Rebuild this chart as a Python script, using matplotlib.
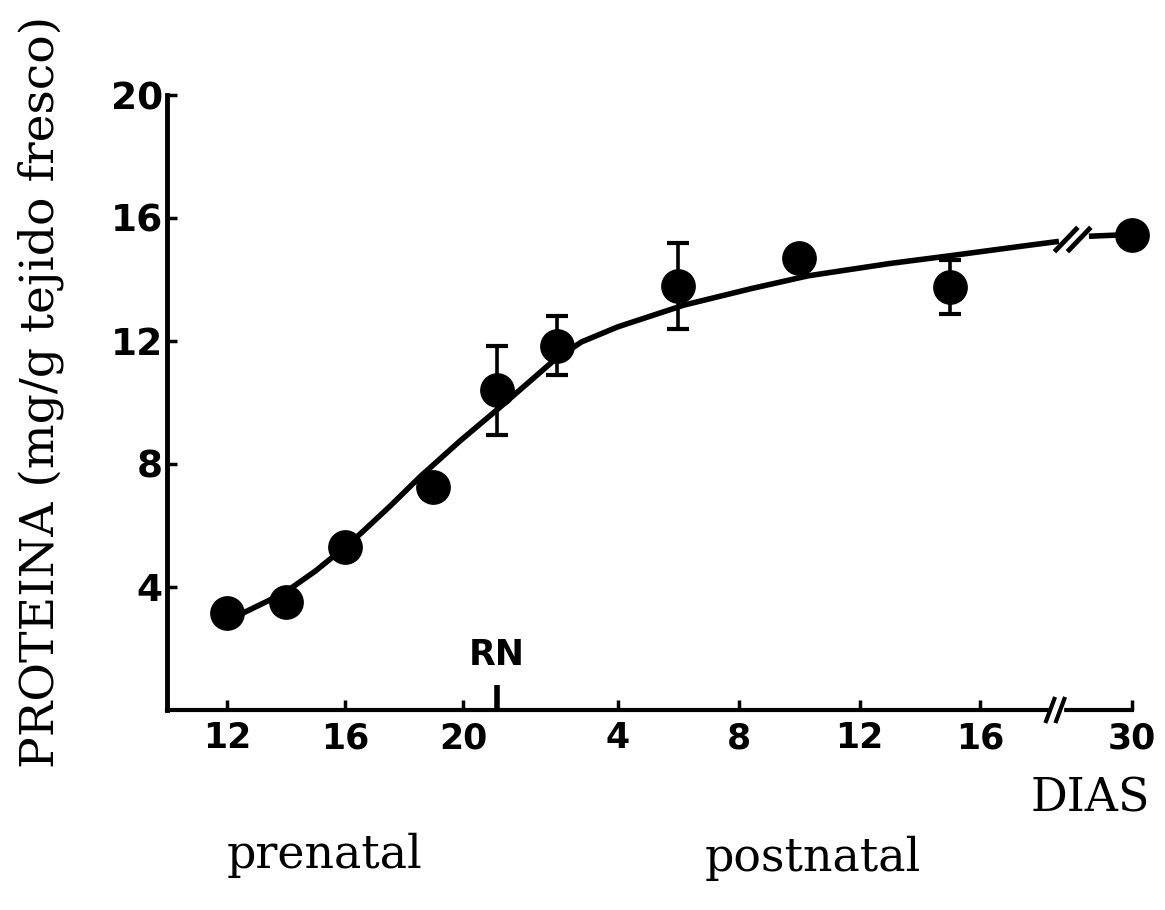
import numpy as np
import matplotlib.pyplot as plt

# measured points: prenatal (gestational day) and postnatal (day after birth)
pre_days = [12, 14, 16, 19]
pre_prot = [3.15, 3.5, 5.3, 7.25]

post_days = [0, 2, 6, 10, 15, 30]
post_prot = [10.4, 11.85, 13.78, 14.7, 13.75, 15.45]
post_err = [1.45, 0.95, 1.4, 0.0, 0.88, 0.0]

# fitted curve as drawn in the original
curve_pre_days = [12.0, 12.54, 13.46, 14.2, 15.0, 15.9, 16.41, 17.53, 18.54, 19.9]
curve_pre_prot = [2.83, 3.15, 3.58, 3.98, 4.52, 5.22, 5.63, 6.63, 7.58, 8.75]
curve_post_days = [0, 1.9, 2.8, 4.0, 6.2, 8.4, 10.3, 13.0, 14.9, 17.5, 18.6, 23.5, 27.0, 30]
curve_post_prot = [9.76, 11.38, 11.97, 12.46, 13.17, 13.7, 14.12, 14.52, 14.76, 15.1, 15.24,
                   15.41, 15.44, 15.45]

pre_ticks = [12, 16, 20]
post_ticks = [4, 8, 12, 16, 30]

# axis layout: prenatal days as base unit, birth (RN) between 21 and 22
BIRTH = 21.15
POST_SCALE = 1.024
BREAK_DAY = 18.7
AFTER_SCALE = 0.21


def xpos_post(p):
    p = np.asarray(p, dtype=float)
    before = BIRTH + POST_SCALE * np.minimum(p, BREAK_DAY)
    after = np.maximum(p - BREAK_DAY, 0) * AFTER_SCALE
    return before + after


fig = plt.figure(figsize=(11.65, 9.1), dpi=100)
ax = fig.add_axes([167 / 1165, 1 - 710 / 910, 965 / 1165, 615 / 910])

black = 'black'
# curve, split around the axis break
ax.plot(curve_pre_days + list(xpos_post(curve_post_days[:11])),
        curve_pre_prot + curve_post_prot[:11], color=black, lw=4, solid_capstyle='butt',
        solid_joinstyle='round')
ax.plot(xpos_post(curve_post_days[11:]), curve_post_prot[11:], color=black, lw=4,
        clip_on=False)

# break marks on the curve
for cx in (40.44, 40.88):
    ax.plot([cx - 0.34, cx + 0.34], [15.3 - 0.34, 15.3 + 0.34], color=black, lw=3.5)

ax.plot(pre_days, pre_prot, 'o', color=black, ms=24, clip_on=False, zorder=3)
post_x = xpos_post(post_days)
ax.errorbar(post_x, post_prot, yerr=post_err, fmt='o', color=black, ms=24,
            elinewidth=2.6, capsize=8, capthick=3, clip_on=False, zorder=3)

ax.set_xlim(9.97, float(xpos_post(30)))
ax.set_ylim(0, 20)

ax.spines['top'].set_visible(False)
ax.spines['right'].set_visible(False)
ax.spines['left'].set_linewidth(3.5)
ax.spines['bottom'].set_linewidth(3)

ax.set_yticks([4, 8, 12, 16, 20])
ax.set_yticklabels(['4', '8', '12', '16', '20'])
ax.set_xticks(pre_ticks + list(xpos_post(post_ticks)))
ax.set_xticklabels([str(t) for t in pre_ticks + post_ticks])
ax.set_xticks([BIRTH], minor=True)

ax.tick_params(axis='both', which='major', direction='in', length=7, width=2.5)
ax.tick_params(axis='x', which='minor', direction='in', length=18, width=4)
ax.tick_params(axis='x', which='major', pad=8)
ax.tick_params(axis='y', which='major', pad=3)
for lab in ax.get_xticklabels():
    lab.set_fontsize(25)
    lab.set_fontweight('bold')
    lab.set_family('DejaVu Sans')
for lab in ax.get_yticklabels():
    lab.set_fontsize(27)
    lab.set_fontweight('bold')
    lab.set_family('DejaVu Sans')

# break marks on the x axis
ax.plot([40.02, 40.22], [-0.03, -0.03], color='white', lw=6, clip_on=False, zorder=4)
for bx in (39.9, 40.24):
    ax.plot([bx - 0.14, bx + 0.14], [-0.36, 0.36], color=black, lw=3, clip_on=False, zorder=5)

ax.text(BIRTH, 1.22, 'RN', ha='center', va='bottom', fontsize=25, fontweight='bold',
        family='DejaVu Sans')

serif = 'DejaVu Serif'
fig.text(41 / 1165, 1 - 392 / 910, 'PROTEINA (mg/g tejido fresco)', rotation=90,
         ha='center', va='center', fontsize=34, family=serif)
fig.text(1090 / 1165, 1 - 799 / 910, 'DIAS', ha='center', va='center', fontsize=33, family=serif)
fig.text(325 / 1165, 1 - 855 / 910, 'prenatal', ha='center', va='center', fontsize=33,
         family=serif)
fig.text(813 / 1165, 1 - 858 / 910, 'postnatal', ha='center', va='center', fontsize=33,
         family=serif)

fig.savefig('out.png', dpi=100)
